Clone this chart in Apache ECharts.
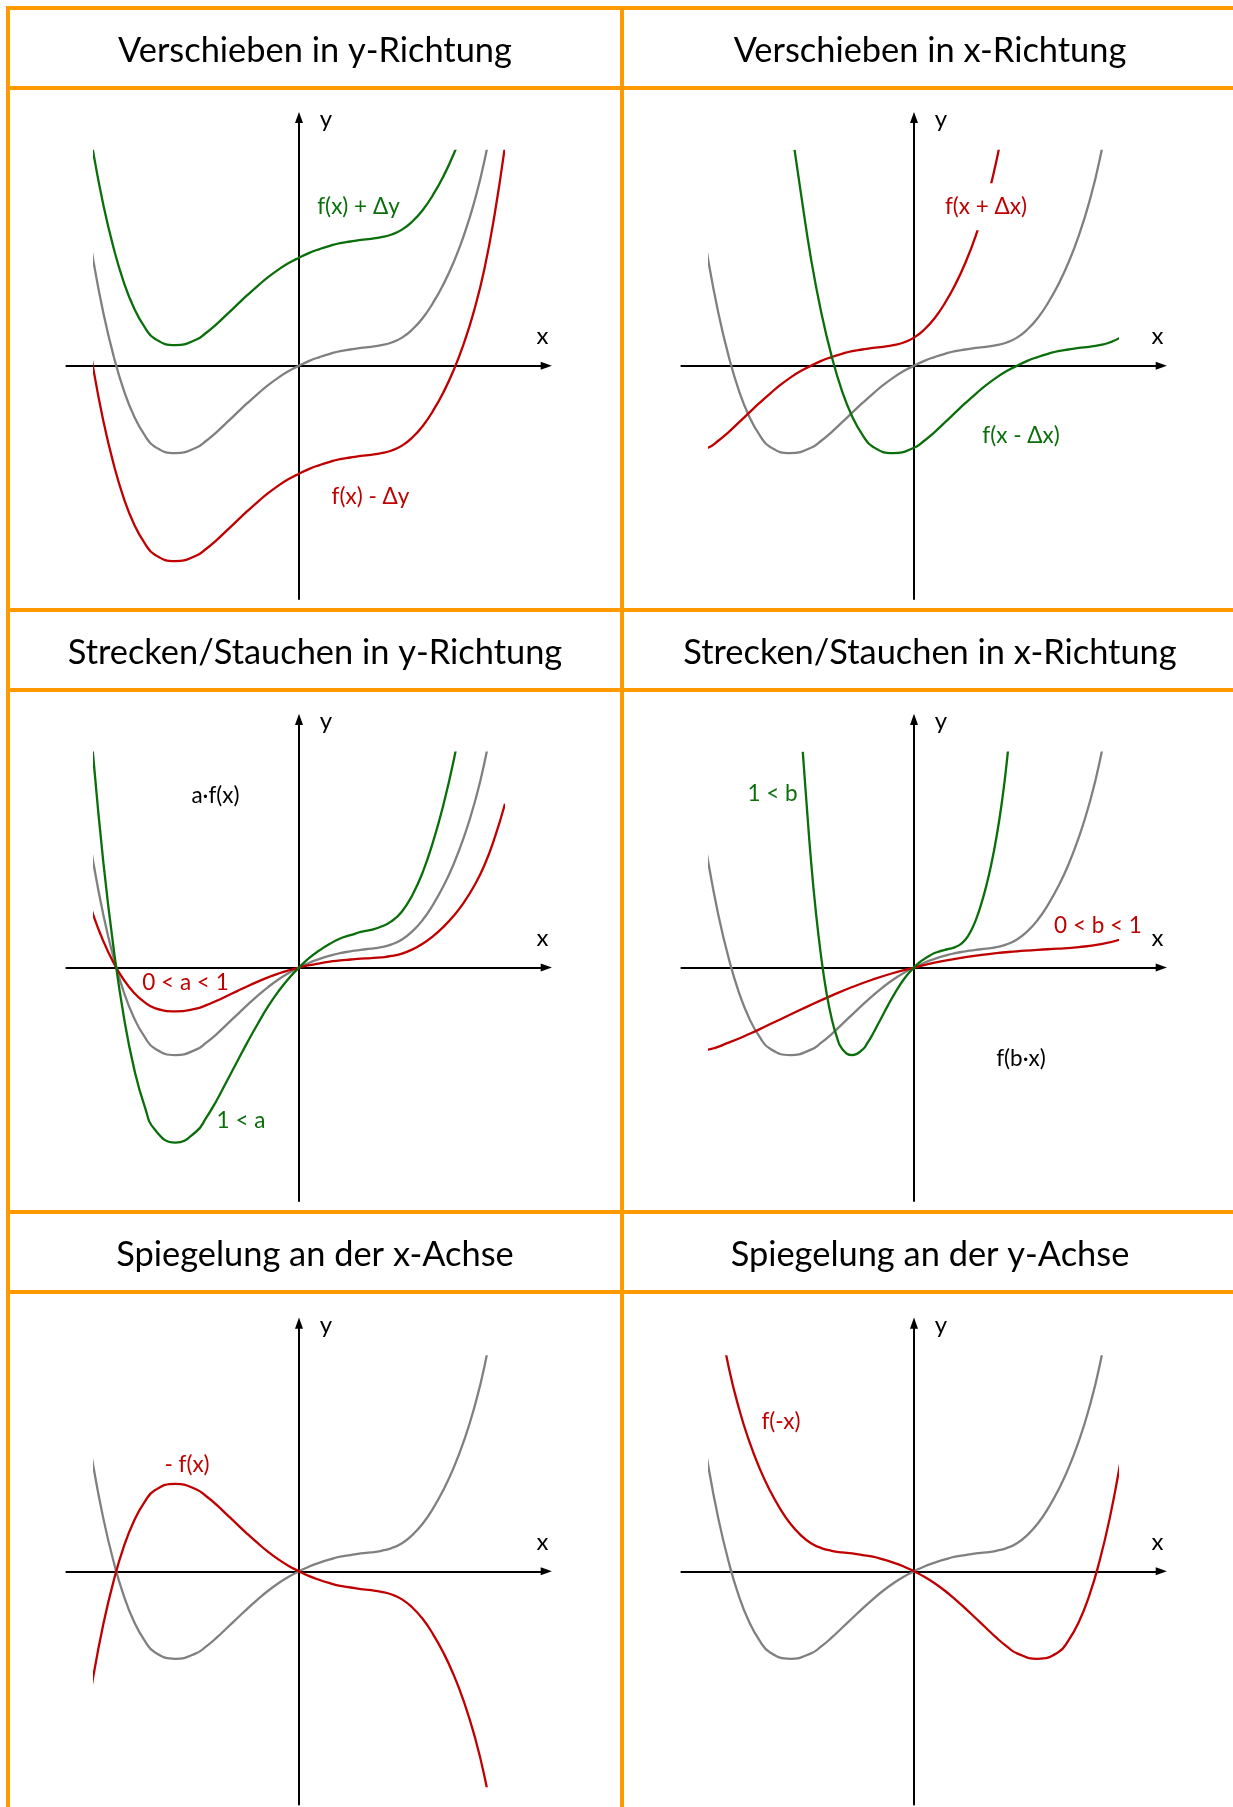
<!DOCTYPE html>
<html>
<head>
<meta charset="utf-8">
<script src="https://cdn.jsdelivr.net/npm/echarts@6/dist/echarts.min.js"></script>
<style>
html, body { margin: 0; padding: 0; background: #fff; }
#main { width: 1233px; height: 1807px; }
</style>
</head>
<body>
<div id="main"></div>
<script>
// Grundfunktion f(x) (x-Einheit = Δx, y-Einheit = Δy)
var fX = [-2.16, -2.1, -2, -1.9, -1.8, -1.7, -1.6, -1.5, -1.4, -1.2, -1, -0.9, -0.8, -0.7,
          -0.6, -0.5, -0.4, -0.3, -0.2, -0.1, 0, 0.1, 0.2, 0.3, 0.4, 0.5, 0.6, 0.7, 0.8, 0.9,
          1, 1.1, 1.2, 1.3, 1.4, 1.5, 1.6, 1.7, 1.8, 1.9, 2];
var fY = [2.0, 1.61, 0.99, 0.49, 0.09, -0.23, -0.47, -0.64, -0.75, -0.81, -0.76, -0.695, -0.615, -0.525,
          -0.435, -0.345, -0.26, -0.18, -0.11, -0.05, 0, 0.045, 0.08, 0.11, 0.135, 0.15, 0.165, 0.175, 0.19, 0.215,
          0.26, 0.335, 0.44, 0.58, 0.75, 0.955, 1.205, 1.51, 1.895, 2.405, 3.035];

// Parameter der Transformationen
var dY = 1, dX = 1;
var aBig = 2, aSmall = 0.5;
var bBig = 2, bSmall = 0.5;

var titles = ['Verschieben in y-Richtung', 'Verschieben in x-Richtung',
              'Strecken/Stauchen in y-Richtung', 'Strecken/Stauchen in x-Richtung',
              'Spiegelung an der x-Achse', 'Spiegelung an der y-Achse'];

var GRAY = '#808080', GREEN = '#0a6e0a', RED = '#c00000', ORANGE = '#ff9900';
var FONT = 'Lato, "Open Sans", sans-serif';
var LW = 2.3;

function curve(fn) {
    var res = [];
    for (var i = 0; i < fX.length; i++) res.push(fn(fX[i], fY[i]));
    return res;
}
var base = curve(function (x, y) { return [x, y]; });

var panels = [
    { curves: [[GRAY, base],
               [GREEN, curve(function (x, y) { return [x, y + dY]; })],
               [RED, curve(function (x, y) { return [x, y - dY]; })]],
      labels: [['f(x) + Δy', GREEN, 59.5, -159], ['f(x) - Δy', RED, 71.5, 131]] },
    { curves: [[GRAY, base],
               [RED, curve(function (x, y) { return [x - dX, y]; })],
               [GREEN, curve(function (x, y) { return [x + dX, y]; })]],
      labels: [['f(x + Δx)', RED, 72, -159, true], ['f(x - Δx)', GREEN, 107, 70]] },
    { curves: [[GRAY, base],
               [RED, curve(function (x, y) { return [x, y * aSmall]; })],
               [GREEN, curve(function (x, y) { return [x, y * aBig]; })]],
      labels: [['a·f(x)', '#000', -83.5, -172], ['0 < a < 1', RED, -113.5, 15.5], ['1 < a', GREEN, -58, 153.5]] },
    { curves: [[GRAY, base],
               [RED, curve(function (x, y) { return [x / bSmall, y]; })],
               [GREEN, curve(function (x, y) { return [x / bBig, y]; })]],
      labels: [['1 < b', GREEN, -141.5, -174], ['0 < b < 1', RED, 184, -41.5], ['f(b·x)', '#000', 107, 91.5]] },
    { curves: [[GRAY, base],
               [RED, curve(function (x, y) { return [x, -y]; })]],
      labels: [['- f(x)', RED, -112, -107]] },
    { curves: [[GRAY, base],
               [RED, curve(function (x, y) { return [-x, y]; }).reverse()]],
      labels: [['f(-x)', RED, -133, -150]] }
];

// Layout
var OX = [299, 914];
var OY = [365.7, 967.6, 1571.3];
var ROW_TOP = [8, 610, 1212];
var TITLE_H = 80;
var UX = 103, UY = 108;
var TITLE_CX = [315, 930];
// Kurvenfenster relativ zum Ursprung (px); ECharts vergroessert den Clip um LW/2
var WIN = { l: -206 + LW / 2, r: 205 - LW / 2, t: 216 - LW / 2, b: -216 + LW / 2 };

var chart = echarts.init(document.getElementById('main'));
var grids = [], xAxes = [], yAxes = [], series = [], graphics = [];
var arrow = 'path://M5,0L10,14L0,14Z';

function txt(x, y, text, color, size, extra) {
    var st = { text: text, fill: color, font: size + 'px ' + FONT, align: 'center', verticalAlign: 'middle',
               textAlign: 'center', textVerticalAlign: 'middle' };
    if (extra) { st.backgroundColor = '#fff'; st.padding = [12, 4]; }
    return { type: 'text', x: x, y: y, z: 100, style: st };
}

panels.forEach(function (p, i) {
    var c = i % 2, r = Math.floor(i / 2);
    var ox = OX[c], oy = OY[r];
    var g = i * 2;
    // Achsenkreuz
    grids.push({ left: ox - 232.6, top: oy - 248.2, width: 479.9, height: 481.5 });
    xAxes.push({ type: 'value', gridIndex: g, min: -232.6 / UX, max: 247.3 / UX,
        axisLine: { show: true, onZero: true, symbol: ['none', arrow], symbolSize: [8, 13],
                    lineStyle: { color: '#000', width: 2 } },
        axisTick: { show: false }, axisLabel: { show: false }, splitLine: { show: false } });
    yAxes.push({ type: 'value', gridIndex: g, min: -233.3 / UY, max: 248.2 / UY,
        axisLine: { show: true, onZero: true, symbol: ['none', arrow], symbolSize: [8, 13],
                    lineStyle: { color: '#000', width: 2 } },
        axisTick: { show: false }, axisLabel: { show: false }, splitLine: { show: false } });
    // Zeichenfenster fuer die Kurven
    grids.push({ left: ox + WIN.l, top: oy - WIN.t, width: WIN.r - WIN.l, height: WIN.t - WIN.b });
    xAxes.push({ type: 'value', gridIndex: g + 1, min: WIN.l / UX, max: WIN.r / UX, show: false });
    yAxes.push({ type: 'value', gridIndex: g + 1, min: WIN.b / UY, max: WIN.t / UY, show: false });

    p.curves.forEach(function (cv) {
        series.push({
            type: 'line', xAxisIndex: g + 1, yAxisIndex: g + 1,
            data: cv[1], smooth: 0.5, showSymbol: false, clip: true,
            lineStyle: { color: cv[0], width: LW }, silent: true
        });
    });

    // Achsenbeschriftung
    graphics.push(txt(ox + 27, oy - 246, 'y', '#000', 24));
    graphics.push(txt(ox + 243.5, oy - 29, 'x', '#000', 24));

    p.labels.forEach(function (lb) {
        graphics.push(txt(ox + lb[2], oy + lb[3], lb[0], lb[1], 22.5, lb[4]));
    });

    // Titel
    graphics.push(txt(TITLE_CX[c], ROW_TOP[r] + TITLE_H / 2 + 3, titles[i], '#000', 34.4));
});

// orange Tabellenlinien
ROW_TOP.concat(ROW_TOP.map(function (t) { return t + TITLE_H; })).forEach(function (y) {
    graphics.push({ type: 'line', z: 100, shape: { x1: 6, y1: y, x2: 1233, y2: y },
                    style: { stroke: ORANGE, lineWidth: 4 } });
});
[8, 622].forEach(function (x) {
    graphics.push({ type: 'line', z: 100, shape: { x1: x, y1: 6, x2: x, y2: 1807 },
                    style: { stroke: ORANGE, lineWidth: 4 } });
});

chart.setOption({
    backgroundColor: '#fff',
    animation: false,
    grid: grids,
    xAxis: xAxes,
    yAxis: yAxes,
    series: series,
    graphic: graphics
});
</script>
</body>
</html>
